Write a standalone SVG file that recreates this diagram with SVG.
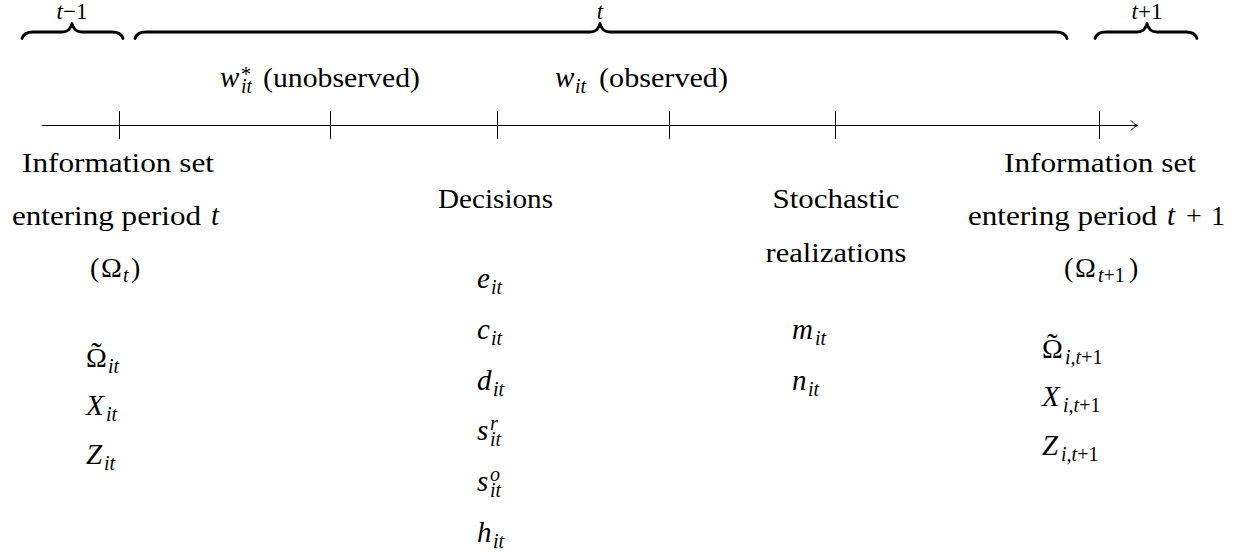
<svg xmlns="http://www.w3.org/2000/svg" width="1250" height="552" viewBox="0 0 1250 552" font-family="Liberation Serif, DejaVu Serif, serif">
<style>
text { font-family: 'Liberation Serif', 'DejaVu Serif', serif; fill: #000; }
.tx { font-size: 28px; }
.m { font-size: 29px; font-style: italic; }
.sub { font-size: 20px; font-style: italic; }
.subup { font-size: 20px; font-style: normal; }
.small { font-size: 23px; }
.acc { font-size: 32px; font-style: normal; }
.brace { fill: none; stroke: #000; stroke-width: 2.8; stroke-linecap: round; stroke-linejoin: round; }
.axis { fill: none; stroke: #000; stroke-width: 1; }
</style>
<rect width="1250" height="552" fill="#fff"/>

<g id="brace-t-minus-1">
  <path class="brace" d="M22,38.5 Q24,32 33,32 L62,32 Q70,32 72,23.5 Q74,32 82,32 L112,32 Q121,32 123,38.5"/>
  <text class="small" x="72" y="19" text-anchor="middle"><tspan font-style="italic">t</tspan>−1</text>
</g>
<g id="brace-t">
  <path class="brace" d="M135,38.5 Q137,32 146,32 L590,32 Q598,32 600,23.5 Q602,32 610,32 L1056,32 Q1065,32 1067,38.5"/>
  <text class="small" x="600" y="19" text-anchor="middle" font-style="italic">t</text>
</g>
<g id="brace-t-plus-1">
  <path class="brace" d="M1095,38.5 Q1097,32 1106,32 L1137,32 Q1145,32 1147,23.5 Q1149,32 1157,32 L1186,32 Q1195,32 1197,38.5"/>
  <text class="small" x="1147" y="19" text-anchor="middle"><tspan font-style="italic">t</tspan>+1</text>
</g>

<g id="label-wstar">
  <text class="m" y="87"><tspan x="220">w</tspan><tspan class="subup" x="241" y="81">*</tspan><tspan class="sub" x="241" y="93">it</tspan></text>
  <text class="tx" x="263" y="87" textLength="157" lengthAdjust="spacingAndGlyphs">(unobserved)</text>
</g>
<g id="label-w">
  <text class="m" y="87"><tspan x="555">w</tspan><tspan class="sub" x="575" y="93">it</tspan></text>
  <text class="tx" x="599" y="87" textLength="129" lengthAdjust="spacingAndGlyphs">(observed)</text>
</g>

<g id="connectors">
  <line class="axis" x1="42" y1="125.5" x2="1137" y2="125.5"/>
  <path class="axis" d="M1131,120.5 Q1133.5,124 1137.5,125.5 Q1133.5,127 1131,130.5"/>
  <line class="axis" x1="119.5" y1="111" x2="119.5" y2="139"/>
  <line class="axis" x1="330.5" y1="111" x2="330.5" y2="139"/>
  <line class="axis" x1="497.5" y1="111" x2="497.5" y2="139"/>
  <line class="axis" x1="669.5" y1="111" x2="669.5" y2="139"/>
  <line class="axis" x1="835.5" y1="111" x2="835.5" y2="139"/>
  <line class="axis" x1="1099.5" y1="111" x2="1099.5" y2="139"/>
</g>

<g id="info-set-t">
  <text class="tx" x="118" y="172" text-anchor="middle" textLength="192" lengthAdjust="spacingAndGlyphs">Information set</text>
  <text class="tx" y="225"><tspan x="12" textLength="189" lengthAdjust="spacingAndGlyphs">entering period</tspan><tspan x="211" font-style="italic" font-size="29">t</tspan></text>
  <text class="tx" y="277"><tspan x="90">(</tspan><tspan x="101">Ω</tspan><tspan class="sub" x="123" y="282">t</tspan><tspan x="131" y="277">)</tspan></text>
</g>
<g id="vars-t">
  <text class="tx" y="367"><tspan x="86">Ω</tspan><tspan class="acc" x="91" y="364">˜</tspan><tspan class="sub" x="108" y="373">it</tspan></text>
  <text class="m" y="415"><tspan x="86">X</tspan><tspan class="sub" x="106" y="421">it</tspan></text>
  <text class="m" y="464"><tspan x="86">Z</tspan><tspan class="sub" x="104" y="470">it</tspan></text>
</g>

<g id="decisions">
  <text class="tx" x="495.5" y="208" text-anchor="middle" textLength="115" lengthAdjust="spacingAndGlyphs">Decisions</text>
  <text class="m" y="288"><tspan x="477">e</tspan><tspan class="sub" x="491" y="294">it</tspan></text>
  <text class="m" y="339"><tspan x="477">c</tspan><tspan class="sub" x="491" y="345">it</tspan></text>
  <text class="m" y="390"><tspan x="477">d</tspan><tspan class="sub" x="493" y="396">it</tspan></text>
  <text class="m" y="440"><tspan x="477">s</tspan><tspan class="sub" x="490" y="430">r</tspan><tspan class="sub" x="490" y="446">it</tspan></text>
  <text class="m" y="491"><tspan x="477">s</tspan><tspan class="sub" x="490" y="481">o</tspan><tspan class="sub" x="490" y="497">it</tspan></text>
  <text class="m" y="542"><tspan x="477">h</tspan><tspan class="sub" x="493" y="548">it</tspan></text>
</g>

<g id="stochastic">
  <text class="tx" x="836" y="208" text-anchor="middle" textLength="127" lengthAdjust="spacingAndGlyphs">Stochastic</text>
  <text class="tx" x="836" y="262" text-anchor="middle" textLength="141" lengthAdjust="spacingAndGlyphs">realizations</text>
  <text class="m" y="339"><tspan x="792">m</tspan><tspan class="sub" x="815" y="345">it</tspan></text>
  <text class="m" y="390"><tspan x="792">n</tspan><tspan class="sub" x="808" y="396">it</tspan></text>
</g>

<g id="info-set-t1">
  <text class="tx" x="1100" y="172" text-anchor="middle" textLength="192" lengthAdjust="spacingAndGlyphs">Information set</text>
  <text class="tx" y="225"><tspan x="968" textLength="189" lengthAdjust="spacingAndGlyphs">entering period</tspan><tspan x="1167" font-style="italic" font-size="29">t</tspan><tspan x="1186">+</tspan><tspan x="1211">1</tspan></text>
  <text class="tx" y="277"><tspan x="1064">(</tspan><tspan x="1075">Ω</tspan><tspan class="sub" x="1098" y="282">t</tspan><tspan class="subup" y="282">+1</tspan><tspan x="1129" y="277">)</tspan></text>
</g>
<g id="vars-t1">
  <text class="tx" y="358"><tspan x="1042">Ω</tspan><tspan class="acc" x="1047" y="355">˜</tspan><tspan class="sub" x="1065" y="364">i,t</tspan><tspan class="subup" y="364">+1</tspan></text>
  <text class="m" y="406"><tspan x="1042">X</tspan><tspan class="sub" x="1063" y="412">i,t</tspan><tspan class="subup" y="412">+1</tspan></text>
  <text class="m" y="455"><tspan x="1042">Z</tspan><tspan class="sub" x="1061" y="461">i,t</tspan><tspan class="subup" y="461">+1</tspan></text>
</g>
</svg>
